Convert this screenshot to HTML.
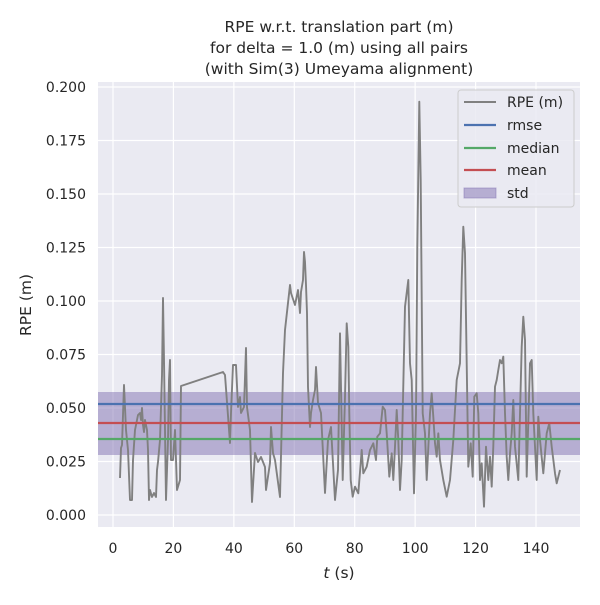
<!DOCTYPE html>
<html><head><meta charset="utf-8"><style>
body{margin:0;background:#fff;}
svg text{font-family:"DejaVu Sans","Liberation Sans",sans-serif;fill:#262626;}
</style></head><body>
<svg id="s" width="600" height="600" xmlns="http://www.w3.org/2000/svg">
<rect x="98" y="82" width="482" height="445" fill="#eaeaf2"/>
<g id="grid" stroke="#fff" stroke-width="1.2"></g>
<rect x="98" y="392" width="482" height="63" fill="#8172b2" fill-opacity="0.5"/>
<polyline id="rpe" fill="none" stroke="#808080" stroke-width="1.9" stroke-linejoin="round"/>
<line x1="98" x2="580" y1="404" y2="404" stroke="#4c72b0" stroke-width="2.2"/>
<line x1="98" x2="580" y1="423" y2="423" stroke="#c44e52" stroke-width="2.2"/>
<line x1="98" x2="580" y1="439" y2="439" stroke="#55a868" stroke-width="2.2"/>
<g id="lab" font-size="14"></g>
<text x="339" y="32" font-size="15.5" text-anchor="middle">RPE w.r.t. translation part (m)</text>
<text x="339" y="53" font-size="15.5" text-anchor="middle">for delta = 1.0 (m) using all pairs</text>
<text x="339" y="74" font-size="15.5" text-anchor="middle">(with Sim(3) Umeyama alignment)</text>
<text x="339" y="578" font-size="15.5" text-anchor="middle"><tspan font-style="italic">t</tspan> (s)</text>
<text x="31" y="305" font-size="15.5" text-anchor="middle" transform="rotate(-90 31 305)">RPE (m)</text>
<g>
<rect x="458" y="90" width="116" height="117" rx="3" fill="#eaeaf2" fill-opacity="0.85" stroke="#ccc"/>
<line x1="464" x2="496" y1="102" y2="102" stroke="#808080" stroke-width="2"/>
<line x1="464" x2="496" y1="125" y2="125" stroke="#4c72b0" stroke-width="2.2"/>
<line x1="464" x2="496" y1="148" y2="148" stroke="#55a868" stroke-width="2.2"/>
<line x1="464" x2="496" y1="170" y2="170" stroke="#c44e52" stroke-width="2.2"/>
<rect x="464" y="188" width="32" height="10" fill="#8172b2" fill-opacity="0.5" stroke="#8172b2" stroke-opacity="0.5"/>
<text x="507" y="107" font-size="14">RPE (m)</text>
<text x="507" y="130" font-size="14">rmse</text>
<text x="507" y="153" font-size="14">median</text>
<text x="507" y="175" font-size="14">mean</text>
<text x="507" y="198" font-size="14">std</text>
</g>
</svg>
<script>
var ns="http://www.w3.org/2000/svg";
var g=document.getElementById('grid'),lab=document.getElementById('lab');
function el(p,t,a,txt){var e=document.createElementNS(ns,t);for(var k in a)e.setAttribute(k,a[k]);if(txt)e.textContent=txt;p.appendChild(e);}
for(var i=0;i<=8;i++){var y=515-53.5*i;el(g,'line',{x1:98,x2:580,y1:y,y2:y});el(lab,'text',{x:86,y:y+5,'text-anchor':'end'},(i*0.025).toFixed(3));}
for(var i=0;i<=7;i++){var x=113+60.43*i;el(g,'line',{x1:x,x2:x,y1:82,y2:527});el(lab,'text',{x:x,y:553,'text-anchor':'middle'},String(i*20));}
var p1=[[120,478],[121,448],[122,445],[124,385],[126,430],[128,450],[130,500],[132,500],[133,460],[135,430],[138,415],[140,413],[141,420],[142,408],[143,425],[144,432],[145,420],[147,430],[148,450],[149,500],[150,490],[152,497],[154,493],[156,497],[157,470],[158,462],[160,440],[162,375],[163,298],[164,360],[166,500],[168,440],[169,380],[170,360],[171,460],[173,460],[175,430],[177,490],[180,480],[181,386],[223,372],[225,375],[230,443],[231,413],[233,365],[236,365],[238,407],[240,397],[241,413],[244,407],[246,348],[247,407],[250,430],[252,502],[255,453],[258,462],[261,457],[265,467],[266,490],[270,463],[271,427],[273,453],[275,460],[280,497],[283,373],[285,330],[288,303],[290,285],[291,293],[295,305],[298,290],[300,313],[301,292],[303,280],[304,252],[305,262],[306,285],[307,313],[308,387],[310,427],[311,413],[313,400],[315,390],[316,367],[318,403],[321,413],[325,493],[328,440],[331,427],[335,500],[338,470]];
var z2=[[0,760],[8,1200],[15,950],[20,730],[25,800],[28,1000],[32,1200],[38,1250],[45,1220],[55,1240],[62,1150],[65,1110],[70,1180],[80,1160],[90,1110],[100,1090],[108,1140],[112,1070],[120,1060],[128,980],[135,990],[140,1060],[148,1190],[155,1120],[160,1200],[165,1100],[170,990],[175,1080],[180,1230],[185,1140],[195,680],[205,600],[210,850],[215,900],[222,1240],[228,1000],[232,500],[238,65],[242,300],[248,1000],[255,1060],[260,1200],[270,1000],[275,940],[280,1010],[285,1090],[290,1130],[295,1060],[300,1140],[310,1200],[320,1250],[330,1200],[340,1080],[350,900],[360,850],[365,600],[370,440],[375,520],[380,850],[385,1160],[392,1090],[398,1190],[403,950],[410,940],[415,1000],[420,1200],[425,1150],[432,1280],[438,1100],[445,1200],[450,1130],[455,1220],[460,1100],[465,920],[470,900],[475,870],[480,840],[485,850],[490,830],[495,1000],[500,1130],[505,1200],[510,1120],[515,1060],[520,960],[525,1100],[535,1200],[545,800],[550,710],[555,780],[560,1190],[570,850],[575,840],[580,1000],[590,1200],[595,1010],[600,1080],[610,1180],[620,1060],[628,1030],[635,1100],[645,1180],[650,1210],[660,1170]];
var pts=p1.map(function(p){return p[0]+','+p[1];});
z2.forEach(function(p){pts.push((340+p[0]/3).toFixed(1)+','+(80+p[1]/3).toFixed(1));});
document.getElementById('rpe').setAttribute('points',pts.join(' '));
</script>
</body></html>
